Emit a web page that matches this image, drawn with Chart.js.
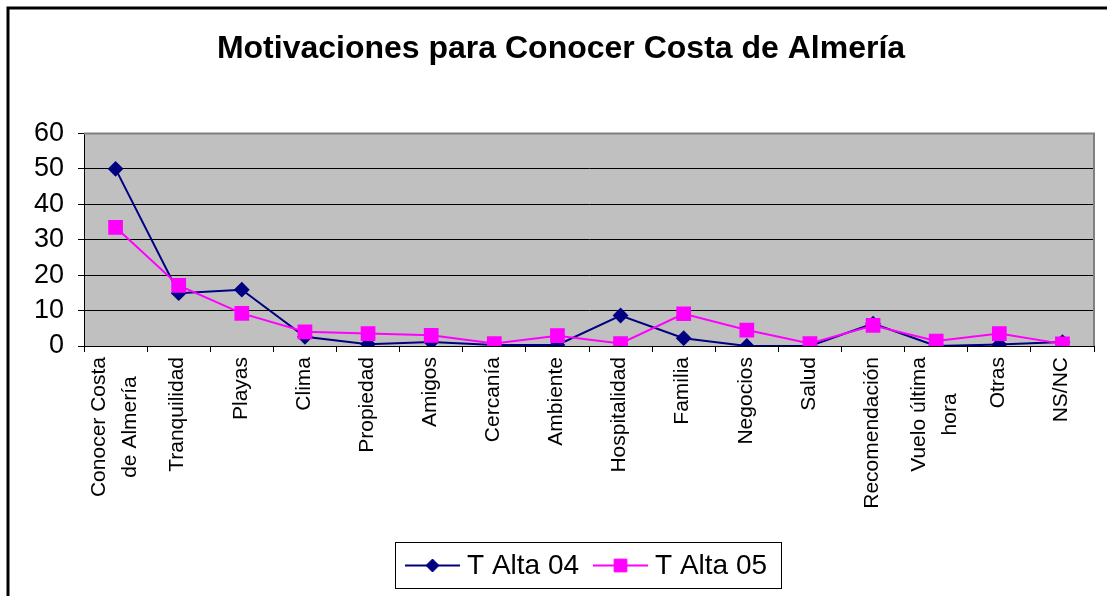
<!DOCTYPE html>
<html>
<head>
<meta charset="utf-8">
<title>Motivaciones para Conocer Costa de Almería</title>
<script src="https://cdn.jsdelivr.net/npm/chart.js@4.4.1/dist/chart.umd.min.js"></script>
<style>
  html, body { margin: 0; padding: 0; background: #fff; overflow: hidden; }
  #wrap { width: 1107px; height: 596px; position: relative; }
</style>
</head>
<body>
<div id="wrap"><canvas id="motivChart"></canvas></div>
<script>
// Data
const categories = [
  ['Conocer Costa', 'de Almería'], 'Tranquilidad', 'Playas', 'Clima', 'Propiedad', 'Amigos',
  'Cercanía', 'Ambiente', 'Hospitalidad', 'Familia', 'Negocios', 'Salud',
  'Recomendación', ['Vuelo última', 'hora'], 'Otras', 'NS/NC'
];
const alta04 = [50, 14.9, 15.9, 2.6, 0.5, 1.1, 0.3, 0.3, 8.6, 2.2, 0, 0, 6.3, 0, 0.4, 1.1];
const alta05 = [33.5, 17.1, 9.2, 4.0, 3.5, 3.0, 0.7, 2.9, 0.7, 9.1, 4.5, 0.7, 5.8, 1.4, 3.5, 0.6];
const seriesNames = ['T Alta 04', 'T Alta 05'];
const yTicks = [0, 10, 20, 30, 40, 50, 60];

const FONT = 'Arial, "Liberation Sans", sans-serif';

// gray plot background, outer frame, rotated category labels, boxed legend
const excelLook = {
  id: 'excelLook',
  beforeDraw(chart) {
    const { ctx, chartArea: a } = chart;
    ctx.save();
    ctx.fillStyle = '#c0c0c0';
    ctx.fillRect(a.left, a.top, a.right - a.left, a.bottom - a.top);
    ctx.restore();
  },
  afterDraw(chart) {
    const { ctx, chartArea: a } = chart;
    ctx.save();
    // plot border (top / right)
    ctx.strokeStyle = '#808080';
    ctx.lineWidth = 2;
    ctx.beginPath();
    ctx.moveTo(a.left, a.top);
    ctx.lineTo(a.right, a.top);
    ctx.lineTo(a.right, a.bottom);
    ctx.stroke();

    // outer frame, cut by the window on right and bottom
    ctx.strokeStyle = '#000';
    ctx.lineWidth = 3;
    ctx.strokeRect(8, 8, 1200, 700);

    // category labels, read bottom-to-top, lines centred on each other
    const xs = chart.scales.x;
    ctx.font = '21px ' + FONT;
    ctx.fillStyle = '#000';
    ctx.textAlign = 'center';
    ctx.textBaseline = 'middle';
    const top = a.bottom + 11;
    const lineGap = 31;
    categories.forEach((lab, i) => {
      const lines = Array.isArray(lab) ? lab : [lab];
      const maxW = Math.max(...lines.map(l => ctx.measureText(l).width));
      const cx = xs.getPixelForTick(i);
      lines.forEach((l, j) => {
        const off = (j - (lines.length - 1) / 2) * lineGap - 1;
        ctx.save();
        ctx.translate(cx + off, top + maxW / 2);
        ctx.rotate(-Math.PI / 2);
        ctx.fillText(l, 0, 0);
        ctx.restore();
      });
    });

    // legend
    const box = { x: 395.5, y: 542.5, w: 386, h: 46 };
    ctx.fillStyle = '#fff';
    ctx.fillRect(box.x, box.y, box.w, box.h);
    ctx.strokeStyle = '#000';
    ctx.lineWidth = 1;
    ctx.strokeRect(box.x, box.y, box.w, box.h);
    const cy = box.y + box.h / 2;
    const starts = [405, 593];
    chart.data.datasets.forEach((ds, i) => {
      const x0 = starts[i];
      ctx.strokeStyle = ds.borderColor;
      ctx.lineWidth = 2;
      ctx.beginPath();
      ctx.moveTo(x0, cy);
      ctx.lineTo(x0 + 55, cy);
      ctx.stroke();
      ctx.fillStyle = ds.pointBackgroundColor;
      ctx.strokeStyle = ds.pointBorderColor;
      ctx.lineWidth = 1;
      Chart.helpers.drawPoint(ctx, {
        pointStyle: ds.pointStyle,
        radius: ds.pointRadius,
        borderWidth: 1
      }, x0 + 27.5, cy);
      ctx.fillStyle = '#000';
      ctx.font = '28px ' + FONT;
      ctx.textBaseline = 'middle';
      ctx.textAlign = 'left';
      ctx.fillText(ds.label, x0 + 62, cy + 1);
    });
    ctx.restore();
  }
};

const ctx = document.getElementById('motivChart').getContext('2d');
const motivChart = new Chart(ctx, {
  type: 'line',
  data: {
    labels: categories,
    datasets: [{
      label: seriesNames[0],
      data: alta04,
      borderColor: '#000080',
      backgroundColor: '#000080',
      pointBackgroundColor: '#000080',
      pointBorderColor: '#000080',
      pointStyle: 'rectRot',
      pointRadius: 6.5,
      borderWidth: 2,
      tension: 0,
      order: 1
    }, {
      label: seriesNames[1],
      data: alta05,
      borderColor: '#ff00ff',
      backgroundColor: '#ff00ff',
      pointBackgroundColor: '#ff00ff',
      pointBorderColor: '#ff00ff',
      pointStyle: 'rect',
      pointRadius: 9,
      borderWidth: 2,
      tension: 0,
      order: 0
    }]
  },
  options: {
    responsive: true,
    maintainAspectRatio: false,
    animation: false,
    layout: {
      padding: { left: 28, right: 13, top: 0, bottom: 66 }
    },
    plugins: {
      legend: { display: false },
      tooltip: { enabled: false },
      title: {
        display: true,
        text: 'Motivaciones para Conocer Costa de Almería',
        color: '#000',
        font: { family: FONT, size: 32, weight: 'bold' },
        padding: { top: 30, bottom: 65 }
      }
    },
    scales: {
      x: {
        offset: true,
        afterFit: (scale) => { scale.height = 184; },
        grid: {
          offset: true,
          drawOnChartArea: false,
          drawTicks: true,
          tickLength: 6,
          color: '#000'
        },
        border: { color: '#000', width: 1 },
        ticks: { display: false }
      },
      y: {
        min: yTicks[0],
        max: yTicks[yTicks.length - 1],
        afterFit: (scale) => { scale.width = 56; },
        afterBuildTicks: (scale) => { scale.ticks = yTicks.map(v => ({ value: v })); },
        grid: {
          color: '#000',
          lineWidth: 1,
          drawTicks: true,
          tickLength: 6
        },
        border: { color: '#000', width: 1 },
        ticks: {
          padding: 14,
          color: '#000',
          font: { family: FONT, size: 27 }
        }
      }
    }
  },
  plugins: [excelLook]
});
</script>
</body>
</html>
